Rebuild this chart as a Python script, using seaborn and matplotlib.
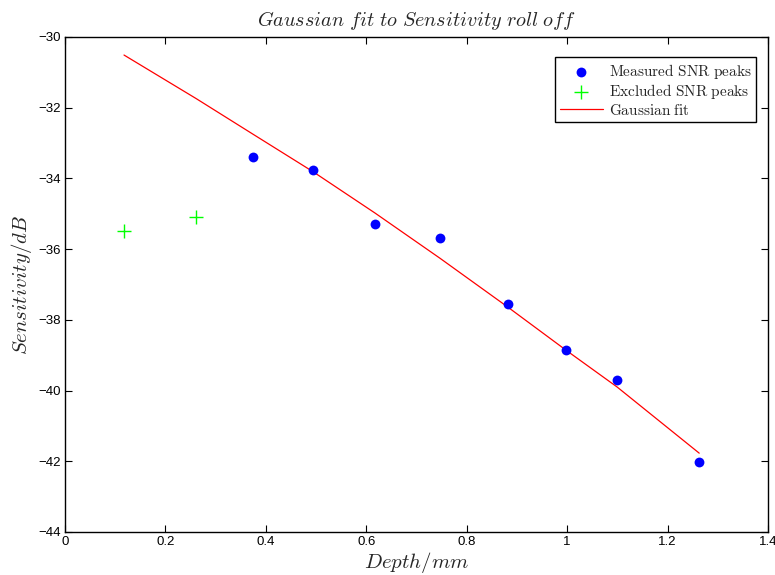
import matplotlib
matplotlib.use("Agg")
import matplotlib.pyplot as plt
import seaborn as sns
import pandas as pd

# Data
measured_depth = [0.3745, 0.494, 0.6175, 0.747, 0.882, 0.998, 1.0996, 1.263]
measured_snr = [-33.39, -33.77, -35.30, -35.69, -37.55, -38.85, -39.70, -42.02]
excluded_depth = [0.1175, 0.261]
excluded_snr = [-35.49, -35.09]
fit_depth = [0.1175, 0.261, 0.3745, 0.494, 0.6175, 0.747, 0.882, 0.998, 1.0996, 1.263]
fit_snr = [-30.51, -31.74, -32.75, -33.81, -34.98, -36.26, -37.64, -38.86, -39.90, -41.77]
x_ticks = [0, 0.2, 0.4, 0.6, 0.8, 1, 1.2, 1.4]
x_tick_labels = ["0", "0.2", "0.4", "0.6", "0.8", "1", "1.2", "1.4"]
y_ticks = [-44, -42, -40, -38, -36, -34, -32, -30]
y_tick_labels = ["\u221244", "\u221242", "\u221240", "\u221238", "\u221236", "\u221234", "\u221232", "\u221230"]

sns.set_theme(style="ticks")
plt.rcParams["font.family"] = ["Liberation Sans", "DejaVu Sans"]
plt.rcParams["mathtext.fontset"] = "cm"

df_meas = pd.DataFrame({"depth": measured_depth, "snr": measured_snr})
df_excl = pd.DataFrame({"depth": excluded_depth, "snr": excluded_snr})
df_fit = pd.DataFrame({"depth": fit_depth, "snr": fit_snr})

fig = plt.figure(figsize=(7.75, 5.75), dpi=100)
ax = fig.add_axes([65 / 775, 43 / 575, 703 / 775, 495 / 575])

sns.scatterplot(data=df_meas, x="depth", y="snr", ax=ax, color="#0000ff",
                marker="o", s=50, edgecolor="#0000ff", linewidth=0,
                label=r"$\mathrm{Measured\ SNR\ peaks}$", zorder=3)
sns.scatterplot(data=df_excl, x="depth", y="snr", ax=ax, color="#00ff00",
                marker="+", s=110, linewidth=1.0,
                label=r"$\mathrm{Excluded\ SNR\ peaks}$", zorder=3)
sns.lineplot(data=df_fit, x="depth", y="snr", ax=ax, color="#ff0000",
             linewidth=0.9, label=r"$\mathrm{Gaussian\ fit}$", zorder=2)

ax.set_xlim(0, 1.4)
ax.set_ylim(-44, -30)
ax.set_xticks(x_ticks)
ax.set_xticklabels(x_tick_labels)
ax.set_yticks(y_ticks)
ax.set_yticklabels(y_tick_labels)
ax.tick_params(direction="in", length=5, width=0.8, labelsize=9.5,
               top=True, right=True, colors="black", pad=3)
for sp in ax.spines.values():
    sp.set_visible(True)
    sp.set_color("black")
    sp.set_linewidth(1.0)

ax.set_title(r"$Gaussian\ fit\ to\ Sensitivity\ roll\ off$", fontsize=14.5, pad=8)
ax.set_xlabel(r"$Depth/mm$", fontsize=15, labelpad=1)
ax.set_ylabel(r"$Sensitivity/dB$", fontsize=15, labelpad=3)

leg = ax.legend(loc="upper right", bbox_to_anchor=(0.983, 0.9596),
                borderaxespad=0, fancybox=False, framealpha=1,
                edgecolor="black", fontsize=11, handlelength=2.8,
                handletextpad=0.4, borderpad=0.3, labelspacing=0.1)
leg.get_frame().set_linewidth(1.0)

fig.savefig("out.png", dpi=100)
